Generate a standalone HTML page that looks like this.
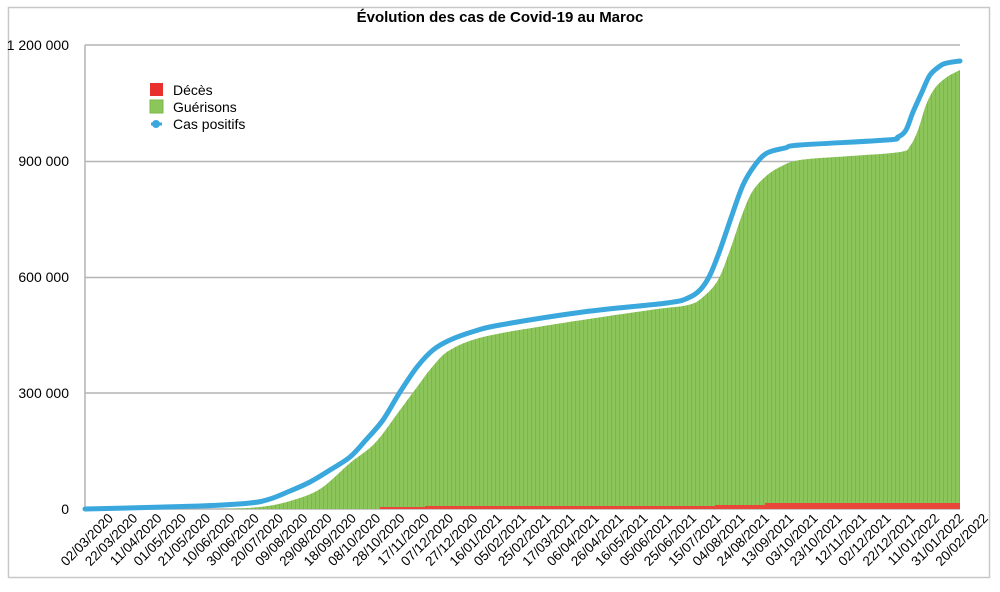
<!DOCTYPE html>
<html><head><meta charset="utf-8"><style>
body{margin:0;background:#fff;width:1000px;height:587px;overflow:hidden;font-family:"Liberation Sans",Arial,sans-serif}
</style></head><body>
<svg width="1000" height="587" viewBox="0 0 1000 587" xmlns="http://www.w3.org/2000/svg" font-family="Liberation Sans, Arial, sans-serif">
<defs>
<pattern id="st" x="0" y="0" width="4" height="10" patternUnits="userSpaceOnUse">
<rect width="4" height="10" fill="#8cc65a"/><rect x="3" width="1" height="10" fill="#78b845"/>
</pattern>
</defs>
<rect x="8.5" y="7.5" width="981" height="570" fill="#fff" stroke="#c8c8c8" stroke-width="1.5"/>
<text x="500" y="22" text-anchor="middle" font-size="15" font-weight="bold">Évolution des cas de Covid-19 au Maroc</text>
<g stroke="#b4b4b4" stroke-width="1.5">
<line x1="85" y1="45" x2="960" y2="45"/><line x1="85" y1="161.5" x2="960" y2="161.5"/>
<line x1="85" y1="277.5" x2="960" y2="277.5"/><line x1="85" y1="393" x2="960" y2="393"/>
<line x1="85" y1="509" x2="960" y2="509"/><line x1="85" y1="45" x2="85" y2="509"/>
</g>
<g font-size="14" text-anchor="end">
<text x="69" y="50">1 200 000</text><text x="69" y="166">900 000</text><text x="69" y="282">600 000</text><text x="69" y="398">300 000</text><text x="69" y="514">0</text>
</g>
<path id="green" fill="url(#st)" d=""/>
<path fill="#e8473a" d="M380,509 L380,507 L425,507 L425,506 L715,506 L715,505 L765,505 L765,503 L960,503 L960,509 Z"/>
<path id="line" fill="none" stroke="#3aa8dd" stroke-width="5" stroke-linecap="round" stroke-linejoin="round" d=""/>
<rect x="150" y="83" width="13" height="13" fill="#e8312e"/>
<rect x="150" y="100" width="13" height="13" fill="#8cc65a" stroke="#78b845"/>
<line x1="151" y1="124" x2="162" y2="124" stroke="#3aa8dd" stroke-width="3"/><circle cx="156" cy="124" r="4" fill="#3aa8dd"/>
<g font-size="14"><text x="173" y="95">Décès</text><text x="173" y="112">Guérisons</text><text x="173" y="129">Cas positifs</text></g>
<g font-size="13.5" id="xl"></g>
</svg>
<script>
function smooth(p){var d="M"+p[0][0]+","+p[0][1];
for(var i=0;i<p.length-1;i++){var p0=p[i-1]||p[i],p1=p[i],p2=p[i+1],p3=p[i+2]||p2;
var c1x=p1[0]+(p2[0]-p0[0])/6,c1y=p1[1]+(p2[1]-p0[1])/6,c2x=p2[0]-(p3[0]-p1[0])/6,c2y=p2[1]-(p3[1]-p1[1])/6;
d+=" C"+c1x.toFixed(1)+","+c1y.toFixed(1)+" "+c2x.toFixed(1)+","+c2y.toFixed(1)+" "+p2[0]+","+p2[1];}return d;}
var L=[[85,509],[200,506],[250,503],[270,499],[290,491],[310,482],[330,470],[350,457],[365,441],[383,420],[400,392],[417,367],[433,350],[450,340],[475,331],[500,325],[583,312],[667,303],[688,298],[700,290],[710,275],[720,250],[731,218],[743,185],[755,165],[767,153],[785,148],[800,145],[887,140],[898,137],[906,130],[913,112],[922,92],[930,75],[940,66],[947,63],[960,61]];
var G=[[220,509],[260,507],[290,501],[320,489],[350,463],[375,443],[400,410],[417,387],[433,366],[450,350],[483,337],[550,325],[650,310],[688,305],[703,297],[718,280],[730,250],[742,215],[752,192],[765,177],[780,167],[800,160],[850,156],[900,152],[910,146],[918,130],[926,105],[935,88],[947,77],[960,70]];
document.getElementById('line').setAttribute('d',smooth(L));
document.getElementById('green').setAttribute('d',smooth(G)+" L960,509 L220,509 Z");
var labels=["02/03/2020","22/03/2020","11/04/2020","01/05/2020","21/05/2020","10/06/2020","30/06/2020","20/07/2020","09/08/2020","29/08/2020","18/09/2020","08/10/2020","28/10/2020","17/11/2020","07/12/2020","27/12/2020","16/01/2021","05/02/2021","25/02/2021","17/03/2021","06/04/2021","26/04/2021","16/05/2021","05/06/2021","25/06/2021","15/07/2021","04/08/2021","24/08/2021","13/09/2021","03/10/2021","23/10/2021","12/11/2021","02/12/2021","22/12/2021","11/01/2022","31/01/2022","20/02/2022"];
var g=document.getElementById('xl'),s="";
for(var i=0;i<labels.length;i++){var x=114+i*24.3,y=519;
s+='<text x="'+x+'" y="'+y+'" text-anchor="end" transform="rotate(-45 '+x+' '+y+')">'+labels[i]+'</text>';}
g.innerHTML=s;
</script>
</body></html>
